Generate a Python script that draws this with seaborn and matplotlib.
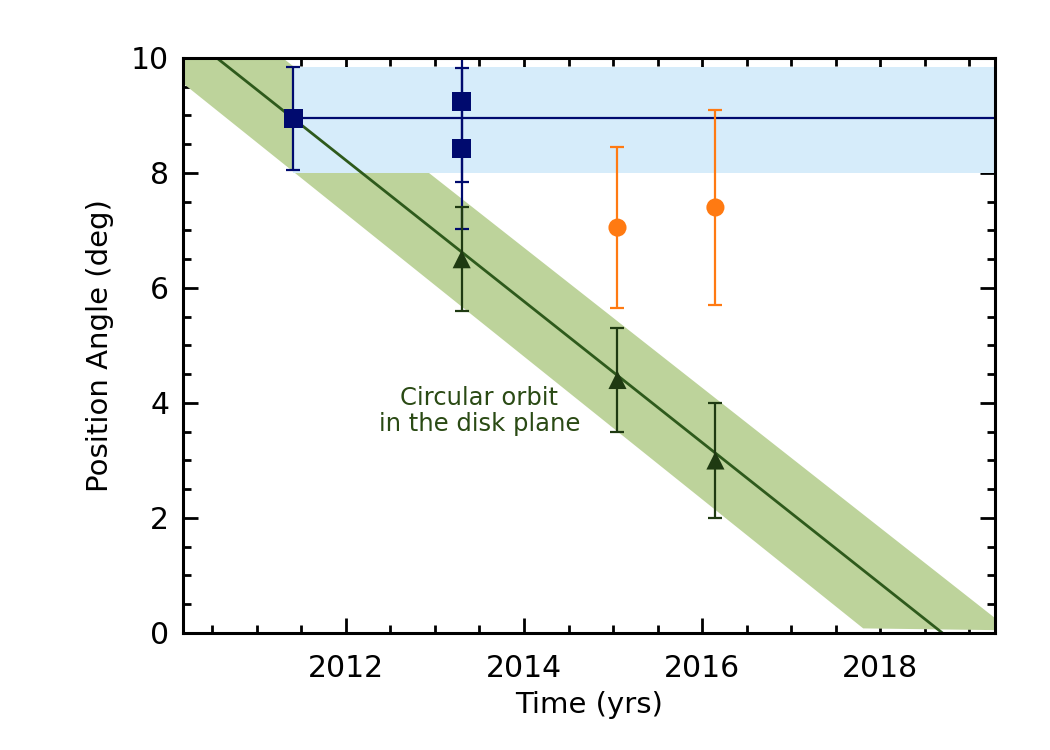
import numpy as np
import pandas as pd
import seaborn as sns
from matplotlib import pyplot as plt
from matplotlib.ticker import MultipleLocator

# blue squares (measurements)
sq_time = [2011.41, 2013.30, 2013.30]
sq_pa = [8.95, 9.25, 8.42]
sq_err = [0.9, 1.4, 1.4]

# green triangles (circular orbit predictions)
tri_time = [2013.30, 2015.05, 2016.15]
tri_pa = [6.50, 4.40, 3.00]
tri_err = [0.9, 0.9, 1.0]

# orange circles
circ_time = [2015.05, 2016.15]
circ_pa = [7.05, 7.40]
circ_err = [1.4, 1.7]

# circular orbit line and its uncertainty band
orbit_time = [2010.55, 2018.70]
orbit_pa = [10.0, 0.0]
band_time = [2010.17, 2011.29, 2019.29, 2019.29, 2017.81, 2010.17]
band_pa = [10.0, 10.0, 0.26, 0.05, 0.08, 9.56]

# constant position angle band
const_pa = 8.95
const_lo, const_hi = 8.0, 9.85
const_start = 2011.41

xlim = (2010.17, 2019.29)
ylim = (0, 10)

navy = "#000a6e"
dark_green = "#1f3a12"
line_green = "#2e5a1c"
band_green = "#bdd39b"
light_blue = "#d6ecfa"
orange = "#ff7a12"

sns.set_theme(style="ticks")
plt.rcParams["font.family"] = ["DejaVu Sans"]

fig = plt.figure(figsize=(10.5, 7.5), dpi=100)
ax = fig.add_axes([0.1743, 0.156, 0.9476 - 0.1743, 0.9227 - 0.156])

# bands
ax.fill(band_time, band_pa, color=band_green, lw=0, zorder=1)
ax.fill_between([const_start, xlim[1]], const_lo, const_hi,
                color=light_blue, lw=0, zorder=2)

# lines
sns.lineplot(x=orbit_time, y=orbit_pa, ax=ax, color=line_green, lw=2,
             zorder=3)
sns.lineplot(x=[const_start, xlim[1]], y=[const_pa, const_pa], ax=ax,
             color=navy, lw=1.6, zorder=3)

# error bars
ax.errorbar(sq_time, sq_pa, yerr=sq_err, fmt="none", ecolor=navy,
            elinewidth=1.6, capsize=5, capthick=1.6, zorder=4)
ax.errorbar(tri_time, tri_pa, yerr=tri_err, fmt="none", ecolor=dark_green,
            elinewidth=1.6, capsize=5, capthick=1.6, zorder=4)
ax.errorbar(circ_time, circ_pa, yerr=circ_err, fmt="none", ecolor=orange,
            elinewidth=1.6, capsize=5, capthick=1.6, zorder=4)

# markers
sns.scatterplot(x=sq_time, y=sq_pa, ax=ax, marker="s", s=190, color=navy,
                edgecolor="none", zorder=5)
sns.scatterplot(x=tri_time, y=tri_pa, ax=ax, marker="^", s=170,
                color=dark_green, edgecolor="none", zorder=5)
sns.scatterplot(x=circ_time, y=circ_pa, ax=ax, marker="o", s=170,
                color=orange, edgecolor="none", zorder=5)

ax.text(2013.5, 3.86, "Circular orbit\nin the disk plane", color="#2a4a14",
        fontsize=17.5, ha="center", va="center", linespacing=1.15, zorder=6)

ax.set_xlim(xlim)
ax.set_ylim(ylim)
ax.xaxis.set_major_locator(MultipleLocator(2))
ax.xaxis.set_minor_locator(MultipleLocator(0.5))
ax.yaxis.set_major_locator(MultipleLocator(2))
ax.yaxis.set_minor_locator(MultipleLocator(0.5))
ax.tick_params(which="both", direction="in", top=True, right=True,
               width=2, color="black", labelsize=21.5, labelcolor="black")
ax.tick_params(which="major", length=11, pad=10)
ax.tick_params(axis="x", which="major", pad=15)
ax.tick_params(which="minor", length=5.5)
for sp in ax.spines.values():
    sp.set_linewidth(2.2)
    sp.set_color("black")
    sp.set_zorder(10)

ax.set_xlabel("Time (yrs)", fontsize=21, color="black", labelpad=6)
ax.set_ylabel("Position Angle (deg)", fontsize=21, color="black", labelpad=12)
ax.set_facecolor("white")
ax.grid(False)

fig.savefig("out.png", dpi=100, facecolor="white")
